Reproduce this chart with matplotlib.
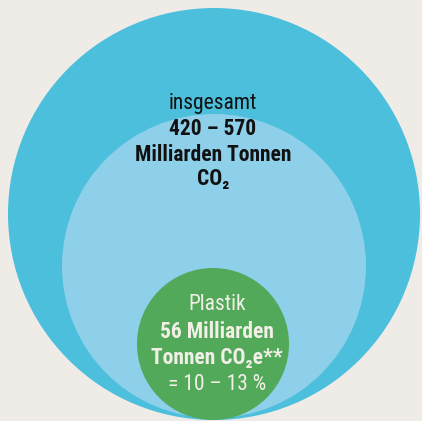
import matplotlib
matplotlib.use("Agg")
import matplotlib.pyplot as plt
from matplotlib.patches import Circle
from matplotlib import font_manager

# ---- data ----
total_label = "insgesamt"
total_range = (420, 570)
total_unit = ["Milliarden Tonnen", "CO\u2082"]
plastic_label = "Plastik"
plastic_value = 56
plastic_unit = ["Milliarden", "Tonnen CO\u2082e**"]
plastic_share = (10, 13)

# ---- layout / style ----
W, H = 422, 421
BG = "#efece8"
C_OUTER = "#4bbfdb"
C_INNER = "#8ecfea"
C_PLASTIC = "#52a95a"
TXT_DARK = "#111111"
TXT_LIGHT = "#f1efe6"

names = {f.name for f in font_manager.fontManager.ttflist}
if "Roboto Condensed" in names:
    FONT = ["Roboto Condensed", "DejaVu Sans"]
    fs = 15.5
else:
    FONT = ["Roboto", "DejaVu Sans"]
    fs = 13.7

fig = plt.figure(figsize=(W / 100, H / 100), dpi=100, facecolor=BG)
ax = fig.add_axes([0, 0, 1, 1])
ax.set_xlim(0, W)
ax.set_ylim(H, 0)
ax.set_aspect("equal")
ax.axis("off")
ax.set_facecolor(BG)

circles = [
    ((214, 214), 206, C_OUTER),
    ((214, 266), 152, C_INNER),
    ((213, 344), 76, C_PLASTIC),
]
for (cx, cy), r, col in circles:
    ax.add_patch(Circle((cx, cy), r, facecolor=col, edgecolor="none"))

cx = 213
ax.text(cx, 103, total_label, ha="center", va="center", fontsize=fs,
        family=FONT, color=TXT_DARK)
ax.text(cx, 129, f"{total_range[0]} \u2013 {total_range[1]}", ha="center",
        va="center", fontsize=fs, family=FONT, weight="bold", color=TXT_DARK)
ax.text(cx, 155, total_unit[0], ha="center", va="center", fontsize=fs,
        family=FONT, weight="bold", color=TXT_DARK)
ax.text(cx, 179, total_unit[1], ha="center", va="center", fontsize=fs,
        family=FONT, weight="bold", color=TXT_DARK)

px = 217
ax.text(px, 305, plastic_label, ha="center", va="center", fontsize=fs,
        family=FONT, color=TXT_LIGHT)
ax.text(px, 332, f"{plastic_value} {plastic_unit[0]}", ha="center",
        va="center", fontsize=fs, family=FONT, weight="bold", color=TXT_LIGHT)
ax.text(px, 358, plastic_unit[1], ha="center", va="center", fontsize=fs,
        family=FONT, weight="bold", color=TXT_LIGHT)
ax.text(px, 385, f"= {plastic_share[0]} \u2013 {plastic_share[1]} %",
        ha="center", va="center", fontsize=fs, family=FONT, color=TXT_LIGHT)

fig.savefig("out.png", dpi=100, facecolor=BG)
